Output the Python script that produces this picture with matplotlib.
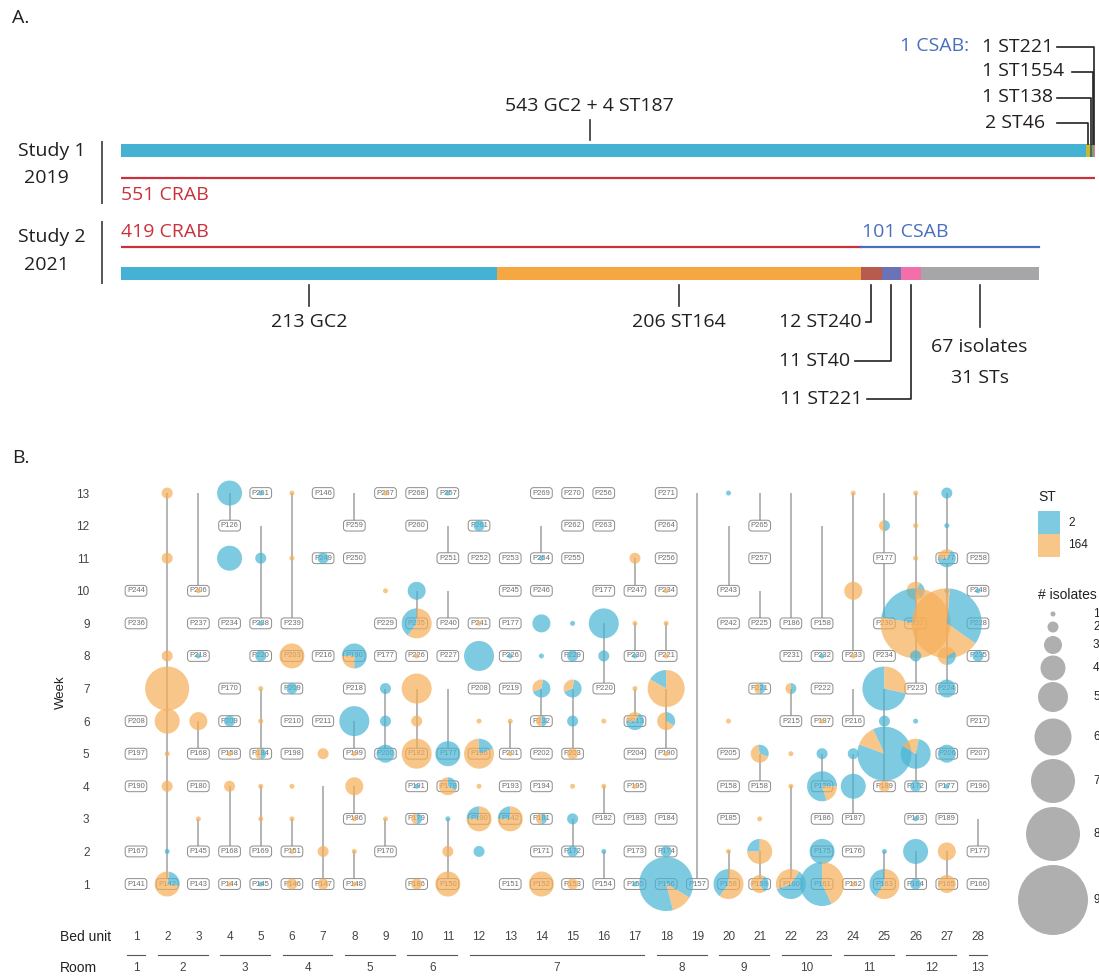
import numpy as np
import matplotlib.pyplot as plt
from matplotlib import transforms
from matplotlib.patches import Wedge, Circle, Rectangle

plt.rcParams['font.family'] = ['Liberation Sans', 'DejaVu Sans']

# ---------------- panel A data ----------------
study1_sts = ['GC2', 'ST46', 'ST138', 'ST1554', 'ST221']
study1_counts = [547, 2, 1, 1, 1]          # 543 GC2 + 4 ST187 share the first block
study1_crab = 551
study1_csab = 1
study2_sts = ['GC2', 'ST164', 'ST240', 'ST40', 'ST221', 'other']
study2_counts = [213, 206, 12, 11, 11, 67]
study2_crab = 419
study2_csab = 101
study2_other_sts = 31

st_colors = {'GC2': '#45B2D3', 'ST164': '#F5A742', 'ST240': '#B85B4F', 'ST40': '#6B73B7',
             'ST221': '#F26FAA', 'ST46': '#C9B838', 'ST138': '#4D6B5A', 'ST1554': '#7FA060',
             'other': '#A6A6A8'}

# ---------------- panel B data ----------------
beds = list(range(1, 29))
rooms = [1, 2, 2, 3, 3, 4, 4, 5, 5, 6, 6, 7, 7, 7, 7, 7, 7, 8, 8, 9, 9, 10, 10, 11, 11, 12, 12, 13]
weeks = list(range(1, 14))

# (bed, week, patient)
patients = [
    (1, 10, 'P244'), (1, 9, 'P236'), (1, 6, 'P208'), (1, 5, 'P197'), (1, 4, 'P190'), (1, 2, 'P167'), (1, 1, 'P141'),
    (2, 1, 'P142'),
    (3, 10, 'P206'), (3, 9, 'P237'), (3, 8, 'P218'), (3, 5, 'P168'), (3, 4, 'P180'), (3, 2, 'P145'), (3, 1, 'P143'),
    (4, 12, 'P126'), (4, 9, 'P234'), (4, 7, 'P170'), (4, 6, 'P209'), (4, 5, 'P158'), (4, 2, 'P168'), (4, 1, 'P144'),
    (5, 13, 'P261'), (5, 9, 'P238'), (5, 8, 'P220'), (5, 5, 'P184'), (5, 2, 'P169'), (5, 1, 'P145'),
    (6, 9, 'P239'), (6, 8, 'P203'), (6, 7, 'P209'), (6, 6, 'P210'), (6, 5, 'P198'), (6, 2, 'P151'), (6, 1, 'P146'),
    (7, 13, 'P146'), (7, 11, 'P249'), (7, 8, 'P216'), (7, 6, 'P211'), (7, 1, 'P147'),
    (8, 12, 'P259'), (8, 11, 'P250'), (8, 8, 'P190'), (8, 7, 'P218'), (8, 5, 'P199'), (8, 3, 'P186'), (8, 1, 'P148'),
    (9, 13, 'P267'), (9, 9, 'P229'), (9, 8, 'P177'), (9, 5, 'P200'), (9, 2, 'P170'),
    (10, 13, 'P268'), (10, 12, 'P260'), (10, 9, 'P235'), (10, 8, 'P226'), (10, 5, 'P182'), (10, 4, 'P191'),
    (10, 3, 'P179'), (10, 1, 'P186'),
    (11, 13, 'P257'), (11, 11, 'P251'), (11, 9, 'P240'), (11, 8, 'P227'), (11, 5, 'P177'), (11, 4, 'P178'), (11, 1, 'P150'),
    (12, 12, 'P261'), (12, 11, 'P252'), (12, 9, 'P241'), (12, 7, 'P208'), (12, 5, 'P196'), (12, 3, 'P190'),
    (13, 11, 'P253'), (13, 10, 'P245'), (13, 9, 'P177'), (13, 8, 'P226'), (13, 7, 'P219'), (13, 5, 'P201'),
    (13, 4, 'P193'), (13, 3, 'P142'), (13, 1, 'P151'),
    (14, 13, 'P269'), (14, 11, 'P254'), (14, 10, 'P246'), (14, 6, 'P232'), (14, 5, 'P202'), (14, 4, 'P194'),
    (14, 3, 'P181'), (14, 2, 'P171'), (14, 1, 'P152'),
    (15, 13, 'P270'), (15, 12, 'P262'), (15, 11, 'P255'), (15, 8, 'P229'), (15, 5, 'P203'), (15, 2, 'P172'), (15, 1, 'P153'),
    (16, 13, 'P256'), (16, 12, 'P263'), (16, 10, 'P177'), (16, 7, 'P220'), (16, 3, 'P182'), (16, 1, 'P154'),
    (17, 10, 'P247'), (17, 8, 'P230'), (17, 6, 'P213'), (17, 5, 'P204'), (17, 4, 'P195'), (17, 3, 'P183'),
    (17, 2, 'P173'), (17, 1, 'P155'),
    (18, 13, 'P271'), (18, 12, 'P264'), (18, 11, 'P256'), (18, 10, 'P234'), (18, 8, 'P221'), (18, 5, 'P190'),
    (18, 3, 'P184'), (18, 2, 'P174'), (18, 1, 'P156'),
    (19, 1, 'P157'),
    (20, 10, 'P243'), (20, 9, 'P242'), (20, 5, 'P205'), (20, 4, 'P158'), (20, 3, 'P185'), (20, 1, 'P158'),
    (21, 12, 'P265'), (21, 11, 'P257'), (21, 9, 'P225'), (21, 7, 'P221'), (21, 4, 'P158'), (21, 1, 'P159'),
    (22, 9, 'P186'), (22, 8, 'P231'), (22, 6, 'P215'), (22, 1, 'P160'),
    (23, 9, 'P158'), (23, 8, 'P232'), (23, 7, 'P222'), (23, 6, 'P187'), (23, 4, 'P120'), (23, 3, 'P186'),
    (23, 2, 'P175'), (23, 1, 'P161'),
    (24, 8, 'P233'), (24, 6, 'P216'), (24, 3, 'P187'), (24, 2, 'P176'), (24, 1, 'P162'),
    (25, 11, 'P177'), (25, 9, 'P230'), (25, 8, 'P234'), (25, 4, 'P189'), (25, 1, 'P163'),
    (26, 9, 'P232'), (26, 7, 'P223'), (26, 4, 'P172'), (26, 3, 'P163'), (26, 1, 'P164'),
    (27, 11, 'P177'), (27, 7, 'P224'), (27, 5, 'P206'), (27, 4, 'P177'), (27, 3, 'P189'), (27, 1, 'P165'),
    (28, 11, 'P258'), (28, 10, 'P248'), (28, 9, 'P228'), (28, 8, 'P235'), (28, 6, 'P217'), (28, 5, 'P207'),
    (28, 4, 'P196'), (28, 2, 'P177'), (28, 1, 'P166'),
]

# (bed, week, isolates ST2, isolates ST164[, start angle of the ST2 slice])
pies = [
    (2, 13, 0, 2), (2, 11, 0, 2), (2, 8, 0, 2), (2, 7, 0, 7), (2, 6, 0, 4), (2, 5, 0, 1), (2, 4, 0, 2),
    (2, 2, 1, 0), (2, 1, 1, 3, -10),
    (3, 10, 0, 1), (3, 8, 1, 0), (3, 6, 0, 3), (3, 3, 0, 1),
    (4, 13, 4, 0), (4, 11, 4, 0), (4, 6, 2, 0), (4, 5, 0, 1), (4, 4, 0, 2), (4, 1, 0, 1),
    (5, 13, 1, 0), (5, 11, 2, 0), (5, 9, 1, 0), (5, 8, 2, 0), (5, 7, 0, 1), (5, 6, 0, 1), (5, 5, 1, 1, -90),
    (5, 4, 0, 1), (5, 3, 0, 1), (5, 1, 1, 0),
    (6, 13, 0, 1), (6, 11, 0, 1), (6, 8, 0, 4), (6, 7, 2, 0), (6, 4, 0, 1), (6, 3, 0, 1), (6, 2, 0, 1), (6, 1, 0, 2),
    (7, 11, 2, 0), (7, 5, 0, 2), (7, 2, 0, 2), (7, 1, 0, 2),
    (8, 8, 3, 1, -90), (8, 6, 5, 0), (8, 5, 0, 1), (8, 4, 0, 3), (8, 3, 0, 1), (8, 2, 0, 1), (8, 1, 0, 1),
    (9, 13, 0, 1), (9, 10, 0, 1), (9, 7, 2, 0), (9, 6, 2, 0), (9, 5, 3, 0), (9, 3, 0, 1),
    (10, 10, 3, 0), (10, 9, 2, 3), (10, 8, 0, 1), (10, 7, 0, 5), (10, 6, 0, 2), (10, 5, 0, 5), (10, 4, 1, 0),
    (10, 3, 1, 1, -90), (10, 1, 0, 2),
    (11, 13, 1, 0), (11, 5, 4, 0), (11, 4, 1, 2, -30), (11, 3, 1, 0), (11, 2, 0, 2), (11, 1, 0, 4),
    (12, 12, 2, 0), (12, 9, 0, 1), (12, 8, 5, 0), (12, 6, 0, 1), (12, 5, 1, 4, 20), (12, 4, 0, 1), (12, 3, 1, 3),
    (12, 2, 2, 0),
    (13, 8, 1, 0), (13, 6, 0, 1), (13, 5, 0, 1), (13, 3, 1, 3),
    (14, 11, 1, 0), (14, 9, 3, 0), (14, 8, 1, 0), (14, 7, 2, 1, 200), (14, 6, 1, 1, -90), (14, 3, 1, 1, -90),
    (14, 1, 0, 4),
    (15, 9, 1, 0), (15, 8, 2, 0), (15, 7, 2, 1, 200), (15, 6, 2, 0), (15, 5, 0, 2), (15, 4, 0, 1), (15, 3, 2, 0),
    (15, 2, 2, 0), (15, 1, 0, 2),
    (16, 9, 5, 0), (16, 8, 2, 0), (16, 6, 0, 1), (16, 4, 0, 1), (16, 2, 1, 0),
    (17, 11, 0, 2), (17, 9, 0, 1), (17, 8, 1, 0), (17, 7, 0, 1), (17, 6, 2, 1, 180), (17, 4, 0, 1), (17, 1, 1, 0),
    (18, 10, 0, 1), (18, 9, 0, 1), (18, 8, 0, 1), (18, 7, 1, 5), (18, 6, 1, 2, -30), (18, 5, 0, 1), (18, 2, 2, 0),
    (18, 1, 7, 1, -30),
    (20, 13, 1, 0), (20, 6, 0, 1), (20, 2, 0, 1), (20, 1, 2, 3),
    (21, 7, 1, 1, -90), (21, 5, 1, 2, -20), (21, 3, 0, 1), (21, 2, 1, 3), (21, 1, 1, 2, -60),
    (22, 7, 1, 1, -90), (22, 5, 0, 1), (22, 4, 0, 1), (22, 1, 3, 2, 200),
    (23, 8, 1, 0), (23, 6, 0, 1), (23, 5, 2, 0), (23, 4, 4, 1, 0), (23, 2, 4, 0), (23, 1, 4, 3),
    (24, 13, 0, 1), (24, 10, 0, 3), (24, 8, 0, 1), (24, 5, 2, 0), (24, 4, 4, 0), (24, 1, 0, 1),
    (25, 12, 1, 1, -90), (25, 7, 5, 2), (25, 6, 2, 0), (25, 5, 7, 1, 160), (25, 4, 0, 2), (25, 2, 1, 0),
    (25, 1, 2, 3),
    (26, 13, 0, 1), (26, 12, 0, 1), (26, 11, 0, 1), (26, 10, 1, 2, -60), (26, 9, 2, 7), (26, 8, 2, 0),
    (26, 6, 1, 0), (26, 5, 4, 1, 150), (26, 4, 2, 0), (26, 3, 1, 0), (26, 2, 4, 0), (26, 1, 2, 0),
    (27, 13, 2, 0), (27, 12, 1, 0), (27, 11, 2, 1, 180), (27, 10, 1, 0), (27, 9, 3, 6, -35), (27, 8, 1, 2, -90),
    (27, 7, 3, 0), (27, 5, 3, 0), (27, 4, 1, 0), (27, 2, 0, 3), (27, 1, 0, 3),
    (28, 10, 1, 0), (28, 8, 2, 0),
]

# same patient followed through a bed: (bed, first week, last week)
links = [
    (2, 1, 13), (3, 10, 13), (3, 5, 6), (3, 2, 3), (4, 12, 13), (4, 2, 4), (5, 9, 12), (5, 5, 7), (5, 2, 4),
    (6, 9, 13), (6, 2, 3), (7, 1, 4), (8, 12, 13), (8, 5, 6), (8, 3, 4), (8, 1, 2), (9, 5, 7), (9, 2, 3),
    (10, 9, 10), (10, 5, 7), (11, 11, 12), (11, 9, 10), (11, 5, 7), (11, 1, 3), (13, 5, 6), (14, 11, 12),
    (14, 6, 7), (15, 5, 7), (15, 2, 3), (16, 7, 9), (16, 3, 4), (16, 1, 2), (17, 10, 11), (17, 8, 9),
    (17, 6, 7), (18, 8, 9), (18, 5, 7), (19, 1, 13), (20, 10, 12), (20, 1, 2), (21, 12, 13), (21, 9, 10),
    (21, 4, 5), (21, 1, 2), (22, 9, 13), (22, 6, 7), (22, 1, 4), (23, 9, 12), (23, 4, 5), (24, 8, 13),
    (24, 6, 7), (24, 3, 5), (25, 9, 13), (25, 4, 7), (25, 1, 2), (26, 7, 13), (26, 4, 5), (26, 1, 2),
    (27, 7, 13), (27, 1, 2), (28, 2, 3),
]

legend_isolates = [1, 2, 3, 4, 5, 6, 7, 8, 9]
legend_radius_px = [2.5, 5.5, 9, 12.5, 15, 18.5, 22, 27, 35]

blue, orange = '#48B5D5', '#F7AE59'
pie_alpha = 0.7
red, csab_blue, ink = '#C8323C', '#4A6FBF', '#231F20'

# ---------------- figure ----------------
W, H = 1099, 976
fig = plt.figure(figsize=(W / 100, H / 100), dpi=100)


def px_axes(x0, y0, x1, y1):
    return fig.add_axes([x0 / W, 1 - y1 / H, (x1 - x0) / W, (y1 - y0) / H])


ov = fig.add_axes([0, 0, 1, 1])
ov.set_xlim(0, W)
ov.set_ylim(H, 0)
ov.axis('off')

fa = dict(family=['Open Sans', 'DejaVu Sans'], fontsize=14)
ov.text(21, 18, 'A.', ha='center', va='center', color=ink, **fa)
ov.text(21, 458, 'B.', ha='center', va='center', color=ink, **fa)
for y1, y2, txt in [(151, 178, ('Study 1', '2019')), (237, 265, ('Study 2', '2021'))]:
    ov.text(52, y1, txt[0], ha='center', va='center', color=ink, **fa)
    ov.text(46, y2, txt[1], ha='center', va='center', color=ink, **fa)
ov.plot([102, 102], [142, 203], color='#555555', lw=1.4)
ov.plot([102, 102], [222, 283], color='#555555', lw=1.4)

# ---- panel A bars ----
S = 1.765  # px per isolate
n1 = sum(study1_counts)
axA = px_axes(121, 0, 121 + n1 * S, 430)
axA.set_xlim(0, n1)
axA.set_ylim(430, 0)
axA.axis('off')


def iso(px):
    return (px - 121) / S


left1 = np.cumsum([0] + study1_counts[:-1])
axA.barh(150.3, study1_counts, left=left1, height=12.7, color=[st_colors[s] for s in study1_sts])
axA.plot([0, study1_crab], [178, 178], color=red, lw=1.6)
axA.text(0, 195, f'{study1_crab} CRAB', color=red, va='center', ha='left', **fa)
mid = study1_counts[0] / 2 - 8
axA.plot([mid, mid], [120, 140], color='#333333', lw=1.2)
axA.text(mid, 106, '543 GC2 + 4 ST187', ha='center', va='center', color=ink, **fa)

ov.text(900, 46, f'{study1_csab} CSAB:', color=csab_blue, ha='left', va='center', **fa)
small = [('1 ST221', 46.5, 1057, 'ST221'), ('1 ST1554', 71.5, 1072, 'ST1554'),
         ('1 ST138', 97.5, 1057, 'ST138'), ('2 ST46', 123, 1057, 'ST46')]
for txt, y, x_start, st in small:
    k = study1_sts.index(st)
    xc = left1[k] + study1_counts[k] / 2
    axA.text(iso(982 if st != 'ST46' else 985), y, txt, ha='left', va='center', color=ink, **fa)
    axA.plot([iso(x_start), xc, xc], [y, y, 143.5], color='#222222', lw=1.2)

# study 2
left2 = np.cumsum([0] + study2_counts[:-1])
axA.barh(273.3, study2_counts, left=left2, height=13.3, color=[st_colors[s] for s in study2_sts])
axA.plot([0, study2_crab], [246.7, 246.7], color=red, lw=1.6)
axA.plot([study2_crab, study2_crab + study2_csab], [246.7, 246.7], color=csab_blue, lw=1.6)
axA.text(0, 232, f'{study2_crab} CRAB', color=red, va='center', ha='left', **fa)
axA.text(study2_crab + 1, 232, f'{study2_csab} CSAB', color=csab_blue, va='center', ha='left', **fa)

c2 = left2 + np.array(study2_counts) / 2
for k, txt in [(0, f'{study2_counts[0]} GC2'), (1, f'{study2_counts[1]} ST164')]:
    axA.plot([c2[k], c2[k]], [285, 306], color='#333333', lw=1.2)
    axA.text(c2[k], 322, txt, ha='center', va='center', color=ink, **fa)
for k, y, x_end in [(2, 321.7, 866), (3, 360.7, 855), (4, 399, 867)]:
    axA.plot([c2[k], c2[k], iso(x_end)], [285, y, y], color='#222222', lw=1.2)
    axA.text(iso(x_end - 4.5), y, f'{study2_counts[k]} {study2_sts[k]}', ha='right', va='center',
             color=ink, **fa)
axA.plot([c2[5], c2[5]], [285, 327], color='#333333', lw=1.2)
axA.text(c2[5], 346.7, f'{study2_counts[5]} isolates', ha='center', va='center', color=ink, **fa)
axA.text(c2[5], 378.3, f'{study2_other_sts} STs', ha='center', va='center', color=ink, **fa)

# ---- panel B ----
axB = px_axes(117.3, 473.5, 996.7, 916.6)
axB.set_xlim(0.4, 28.6)
axB.set_ylim(0, 13.6)
axB.set_autoscale_on(False)
for sp in axB.spines.values():
    sp.set_visible(False)
axB.set_xticks([])
axB.set_yticks(weeks)
axB.set_yticklabels([str(w) for w in weeks], fontsize=8.5, color='#444444')
axB.tick_params(axis='y', length=0, pad=20)

for b, w0, w1 in links:
    axB.plot([b, b], [w0, w1], color='#A0A0A0', lw=1.1, zorder=1, solid_capstyle='butt')

for b, w, name in patients:
    axB.text(b, w, name, ha='center', va='center', fontsize=5.5, color='#6E6E6E', zorder=2,
             bbox=dict(boxstyle='round,pad=0.25,rounding_size=0.4', fc='white', ec='#8C8C8C', lw=0.7))

for p in pies:
    b, w, a, o = p[:4]
    start = p[4] if len(p) > 4 else 90
    tot = a + o
    r = np.interp(tot, legend_isolates, legend_radius_px) / 100.0
    tr = fig.dpi_scale_trans + transforms.ScaledTranslation(b, w, axB.transData)
    split = start + 360.0 * a / tot
    for t1, t2, col in [(start, split, blue), (split, start + 360, orange)]:
        if t2 - t1 > 0:
            axB.add_patch(Wedge((0, 0), r, t1, t2, transform=tr, facecolor=col, alpha=pie_alpha,
                                lw=0, zorder=3, clip_on=False))

blend = transforms.blended_transform_factory(axB.transData, ov.transData)
for b in beds:
    axB.text(b, 937, str(b), transform=blend, ha='center', va='center', fontsize=8.5, color='#444444')
for rm in sorted(set(rooms)):
    bb = [b for b, r_ in zip(beds, rooms) if r_ == rm]
    axB.plot([min(bb) - 0.3, max(bb) + 0.3], [955, 955], transform=blend, color='#555555', lw=0.8,
             clip_on=False)
    axB.text(np.mean(bb), 968, str(rm), transform=blend, ha='center', va='center', fontsize=8.5,
             color='#444444')
ov.text(60, 937, 'Bed unit', ha='left', va='center', fontsize=10, color='#222222')
ov.text(60, 968, 'Room', ha='left', va='center', fontsize=10, color='#222222')
ov.text(61, 692, 'Week', rotation=90, ha='center', va='center', fontsize=9.5, color='#222222')

# ---- legend ----
ov.text(1038, 497, 'ST', ha='left', va='center', fontsize=10, color='#222222')
for y0, col, lab in [(511, blue, '2'), (534, orange, '164')]:
    ov.add_patch(Rectangle((1038, y0), 22, 22.5, facecolor=col, alpha=pie_alpha, lw=0))
    ov.text(1068, y0 + 11.5, lab, ha='left', va='center', fontsize=8.5, color='#222222')
ov.text(1038, 595, '# isolates', ha='left', va='center', fontsize=10, color='#222222')
legend_y = [614, 627, 645, 668, 697, 737, 781, 834, 900]
for n, r, y in zip(legend_isolates, legend_radius_px, legend_y):
    ov.add_patch(Circle((1053, y), r, facecolor='#8E8E8E', alpha=0.7, lw=0))
    ov.text(1093, y, str(n), ha='left', va='center', fontsize=8.5, color='#222222')

fig.savefig('out.png', dpi=100)
